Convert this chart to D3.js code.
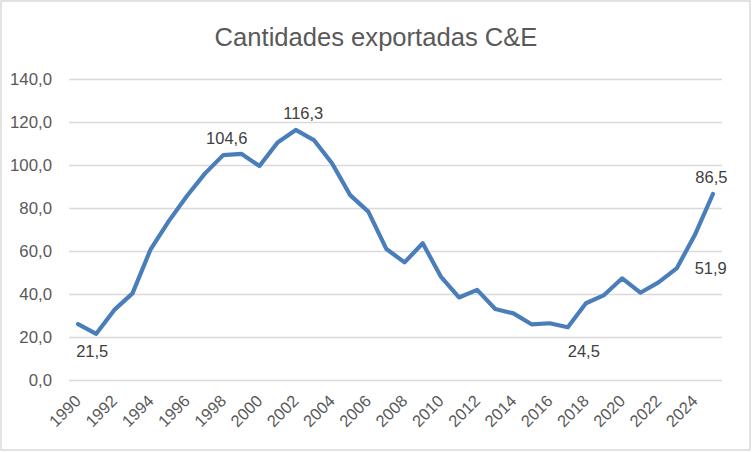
<!DOCTYPE html>
<html><head><meta charset="utf-8">
<script src="https://cdn.jsdelivr.net/npm/d3@7"></script>
<style>html,body{margin:0;padding:0;background:#fff;} svg{display:block;}</style>
</head><body>
<svg id="c" width="752" height="452"></svg>
<script>
const title = "Cantidades exportadas C&E";
const years = d3.range(1990, 2026);
const values = [26.0, 21.5, 32.6, 40.3, 60.8, 73.9, 85.6, 96.1, 104.6, 105.2, 99.5, 110.5, 116.3, 111.6, 100.8, 86.0, 78.3, 60.9, 54.7, 63.6, 48.1, 38.4, 41.9, 33.0, 31.0, 25.9, 26.4, 24.5, 35.7, 39.5, 47.3, 40.6, 45.4, 51.9, 67.4, 86.5];
const yTicks = [0, 20, 40, 60, 80, 100, 120, 140];
const xTickYears = d3.range(1990, 2025, 2);
const labelledYears = [1991, 1998, 2002, 2017, 2023, 2025];

// layout offsets of the data labels relative to their point (dx, dy, anchor)
const labelLayout = {
  1991: [-4, 23, "middle"],
  1998: [3.5, -11, "middle"],
  2002: [7.5, -11, "middle"],
  2017: [16, 30, "middle"],
  2023: [18, 6, "start"],
  2025: [-1.5, -11, "middle"]
};

const fmt = v => d3.format(".1f")(v).replace(".", ",");
const svg = d3.select("#c");
const font = "'Liberation Sans', Arial, sans-serif";

svg.append("rect").attr("x", 1).attr("y", 1).attr("width", 749).attr("height", 449)
  .attr("fill", "#fff").attr("stroke", "#d9d9d9").attr("stroke-width", 1.5);

const x = d3.scalePoint().domain(years).range([69, 722]).padding(0.5);
const y = d3.scaleLinear().domain([0, 140]).range([380, 79]);

// gridlines
svg.append("g").selectAll("line").data(yTicks).join("line")
  .attr("x1", 69).attr("x2", 722)
  .attr("y1", d => Math.round(y(d)) + 0.5).attr("y2", d => Math.round(y(d)) + 0.5)
  .attr("stroke", "#d9d9d9").attr("stroke-width", 1.6);

// y axis labels
const yAxis = d3.axisLeft(y).tickValues(yTicks).tickFormat(fmt).tickSize(0).tickPadding(0);
const gy = svg.append("g").attr("transform", "translate(52,0)").call(yAxis);
gy.select(".domain").remove();
gy.selectAll("text").attr("font-family", font).attr("font-size", 16.8).attr("fill", "#595959");

// x axis labels
const xAxis = d3.axisBottom(x).tickValues(xTickYears).tickSize(0).tickPadding(0);
const gx = svg.append("g").attr("transform", "translate(0,380)").call(xAxis);
gx.select(".domain").remove();
gx.selectAll("text")
  .attr("font-family", font).attr("font-size", 16.5).attr("fill", "#595959")
  .attr("text-anchor", "end").attr("dy", null).attr("y", 0)
  .attr("transform", "translate(3.5,22) rotate(-45)");

// line
const line = d3.line().x((d, i) => x(years[i])).y(d => y(d));
svg.append("path").datum(values).attr("d", line)
  .attr("fill", "none").attr("stroke", "#4a7ebb").attr("stroke-width", 4.2)
  .attr("stroke-linejoin", "round").attr("stroke-linecap", "round");

// data labels
svg.append("g").selectAll("text").data(labelledYears).join("text")
  .attr("font-family", font).attr("font-size", 16.5).attr("fill", "#404040")
  .attr("text-anchor", d => labelLayout[d][2])
  .attr("x", d => x(d) + labelLayout[d][0])
  .attr("y", d => y(values[years.indexOf(d)]) + labelLayout[d][1])
  .text(d => fmt(values[years.indexOf(d)]));

// title
const t = svg.append("text").attr("x", 376).attr("y", 46).attr("text-anchor", "middle")
  .attr("font-family", font).attr("font-size", 24).attr("fill", "#595959").text(title);
const w = t.node().getComputedTextLength();
t.attr("font-size", 24 * 323 / w);
</script>
</body></html>
